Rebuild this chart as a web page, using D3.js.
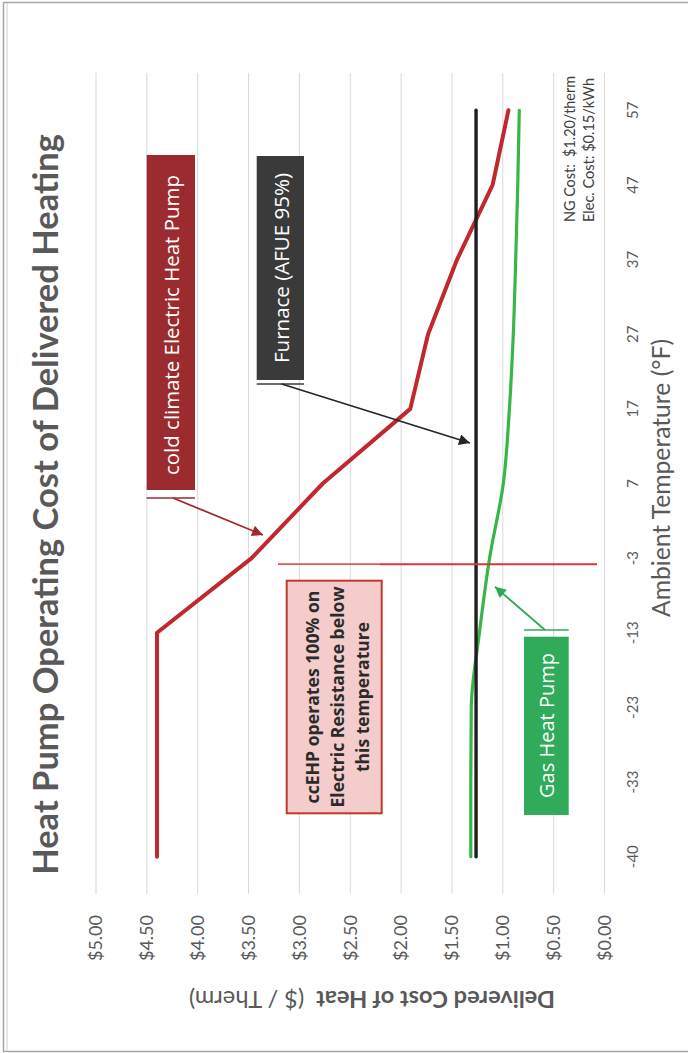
<!DOCTYPE html>
<html><head><meta charset="utf-8">
<script src="https://cdn.jsdelivr.net/npm/d3@7"></script>
<style>body{margin:0;background:#fff}svg{display:block}</style>
</head><body><script>
// ---- data ----
const temperatures = ["-40","-33","-23","-13","-3","7","17","27","37","47","57"];
const ccEhpCost = [4.40,4.40,4.40,4.40,3.47,2.77,1.91,1.735,1.45,1.10,0.945];
const furnaceCost = [1.263,1.263,1.263,1.263,1.263,1.263,1.263,1.263,1.263,1.263,1.263];
const gasHeatPumpCost = [1.315,1.315,1.31,1.23,1.13,0.995,0.935,0.897,0.873,0.853,0.838];
const costTicks = [0,0.5,1,1.5,2,2.5,3,3.5,4,4.5,5];
const lockoutTemperature = "-3";
const titleText = "Heat Pump Operating Cost of Delivered Heating";
const xTitleText = "Ambient Temperature (°F)";
const yTitleBold = "Delivered Cost of Heat";
const yTitleUnit = "  ($ / Therm)";
const noteLines = ["NG Cost:  $1.20/therm","Elec. Cost: $0.15/kWh"];
const ccEhpLabel = "cold climate Electric Heat Pump";
const furnaceLabel = "Furnace (AFUE 95%)";
const gasLabel = "Gas Heat Pump";
const lockoutLines = ["ccEHP operates 100% on","Electric Resistance below","this temperature"];

// ---- layout ----
const W = 688, H = 1053;
const svg = d3.select("body").append("svg").attr("width", W).attr("height", H);
svg.append("rect").attr("width", W).attr("height", H).attr("fill", "#fff");
svg.append("rect").attr("x",3.5).attr("y",2.5).attr("width",W+10).attr("height",H-4)
  .attr("fill","none").attr("stroke","#a6a6a6").attr("stroke-width",1.5);
svg.append("line").attr("x1",7).attr("x2",7).attr("y1",3).attr("y2",H-2)
  .attr("stroke","#d0d0d0").attr("stroke-width",1);

// chart drawn in landscape coordinates, rotated -90deg
const g = svg.append("g").attr("transform", `translate(0,${H}) rotate(-90)`);
const FONT = "Lato, 'Open Sans', sans-serif";
const BOXFONT = "'Open Sans', 'Noto Sans', sans-serif";

const x = d3.scaleBand().domain(temperatures).range([159, 980]).padding(0);
const xc = t => x(t) + x.bandwidth() / 2;
const y = d3.scaleLinear().domain([0, 5]).range([604.5, 96]);

function fit(sel, target) {
  const n = sel.node();
  const fs = parseFloat(sel.attr("font-size"));
  const len = n.getComputedTextLength();
  if (len > 0) sel.attr("font-size", (fs * target / len).toFixed(2));
  return sel;
}

// gridlines
g.append("g").selectAll("line").data(costTicks).join("line")
  .attr("x1", 159).attr("x2", 980)
  .attr("y1", d => y(d)).attr("y2", d => y(d))
  .attr("stroke", "#d9d9d9").attr("stroke-width", 1);

// y axis
const yAxis = g.append("g").attr("transform", "translate(159,0)")
  .call(d3.axisLeft(y).tickValues(costTicks).tickFormat(d3.format("$.2f")).tickSize(0).tickPadding(21));
yAxis.select(".domain").remove();
yAxis.selectAll("text").attr("font-family", FONT).attr("font-size", 18).attr("fill", "#595959");

// x axis
const xAxis = g.append("g").attr("transform", `translate(0,${y(0)})`)
  .call(d3.axisBottom(x).tickSize(0));
xAxis.select(".domain").remove();
xAxis.selectAll("text").attr("y", 28.5).attr("dy", "0.35em")
  .attr("font-family", FONT).attr("font-size", 15).attr("fill", "#595959");

// series
const series = [
  {name: "ccEHP", values: ccEhpCost, color: "#c0282d", w: 4, curve: d3.curveLinear},
  {name: "gas", values: gasHeatPumpCost, color: "#3ab54a", w: 3.2, curve: d3.curveMonotoneX},
  {name: "furnace", values: furnaceCost, color: "#1e1e1e", w: 3.4, curve: d3.curveLinear}
];
g.append("g").selectAll("path").data(series).join("path")
  .attr("d", s => d3.line().x(d => xc(d.t)).y(d => y(d.v)).curve(s.curve)(temperatures.map((t, i) => ({t, v: s.values[i]}))))
  .attr("fill", "none").attr("stroke", s => s.color).attr("stroke-width", s => s.w)
  .attr("stroke-linejoin", "round").attr("stroke-linecap", "round");

// lockout line
const lx = xc(lockoutTemperature) - 6;
g.append("line").attr("x1", lx).attr("x2", lx).attr("y1", 278).attr("y2", 380)
  .attr("stroke", "#dc5a5a").attr("stroke-width", 1.6);
g.append("line").attr("x1", lx).attr("x2", lx).attr("y1", 380).attr("y2", 597)
  .attr("stroke", "#d23a3a").attr("stroke-width", 2);

// markers
const defs = svg.append("defs");
[["arrRed","#a0292c"],["arrBlack","#262626"],["arrGreen","#2eaa55"]].forEach(([id,c]) => {
  defs.append("marker").attr("id", id).attr("viewBox","0 0 10 10").attr("refX",10).attr("refY",5)
    .attr("markerWidth",13).attr("markerHeight",11).attr("markerUnits","userSpaceOnUse")
    .attr("orient","auto").append("path").attr("d","M0,0L10,5L0,10z").attr("fill",c);
});

function box(x0, x1, y0, y1, fill, stroke) {
  g.append("rect").attr("x", x0).attr("y", y0).attr("width", x1 - x0).attr("height", y1 - y0)
    .attr("fill", fill).attr("stroke", stroke || "none").attr("stroke-width", stroke ? 2 : 0);
}
function leader(xx, y0, y1, c) {
  g.append("line").attr("x1", xx).attr("x2", xx).attr("y1", y0).attr("y2", y1)
    .attr("stroke", c).attr("stroke-width", 1.5);
}
function arrow(x0, y0, x1, y1, c, id) {
  g.append("line").attr("x1", x0).attr("y1", y0).attr("x2", x1).attr("y2", y1)
    .attr("stroke", c).attr("stroke-width", 1.8).attr("marker-end", `url(#${id})`);
}
function label(txt, cx, cy, target, opts) {
  const t = g.append("text").attr("x", cx).attr("y", cy).attr("text-anchor", "middle")
    .attr("dominant-baseline", "central").attr("font-family", opts.font || BOXFONT)
    .attr("font-size", opts.size || 16).attr("font-weight", opts.weight || "normal")
    .attr("fill", opts.fill).text(txt);
  fit(t, target);
  return t;
}

// ccEHP box
box(563, 898, 146.7, 195, "#9b2b2f");
leader(555, 146.7, 195, "#9b2b2f");
arrow(555, 173, 518, 263, "#a0292c", "arrRed");
label(ccEhpLabel, 728, 171, 300, {fill: "#fff", size: 16});

// furnace box
box(673, 897, 256.7, 304, "#3a3a3a");
leader(669, 256.7, 304, "#3a3a3a");
arrow(669, 281.7, 610, 470, "#262626", "arrBlack");
label(furnaceLabel, 785, 280.5, 190, {fill: "#fff", size: 16});

// lockout note box
box(239.7, 472.3, 286.7, 381.7, "#f4cccc", "#c0392b");
const lockTargets = [213, 221, 150];
lockoutLines.forEach((s, i) => {
  label(s, 356, 312 + i * 25, lockTargets[i], {fill: "#2b2b2b", size: 15, weight: "bold"});
});

// gas heat pump box
box(238, 416.3, 524, 568.7, "#2fab5a");
leader(423, 524, 568.7, "#2fab5a");
arrow(423, 545, 466.3, 495, "#2eaa55", "arrGreen");
label(gasLabel, 327.5, 546.5, 145, {fill: "#fff", size: 16});

// title
const tt = g.append("text").attr("x", 548.5).attr("y", 58).attr("text-anchor", "middle")
  .attr("font-family", FONT).attr("font-weight", "bold").attr("font-size", 30)
  .attr("fill", "#595959").text(titleText);
fit(tt, 741);

// x title
const xt = g.append("text").attr("x", 575).attr("y", 660).attr("text-anchor", "middle")
  .attr("dominant-baseline", "central").attr("font-family", FONT).attr("font-size", 20)
  .attr("fill", "#595959").text(xTitleText);
fit(xt, 278);

// y title
const yt = g.append("text").attr("transform", "translate(53,372) rotate(-90)")
  .attr("text-anchor", "middle").attr("dominant-baseline", "central")
  .attr("font-family", FONT).attr("font-size", 18).attr("fill", "#595959");
yt.append("tspan").attr("font-weight", "bold").text(yTitleBold);
yt.append("tspan").style("white-space", "pre").text(yTitleUnit);
fit(yt, 366);

// cost note (condensed to mimic a narrow font)
noteLines.forEach((s, i) => {
  g.append("text").attr("x", 831).attr("y", 569 + i * 19).attr("dominant-baseline", "central")
    .attr("font-family", FONT).attr("font-size", 15.5).attr("fill", "#404040")
    .attr("textLength", i === 0 ? 146 : 144).attr("lengthAdjust", "spacingAndGlyphs")
    .style("white-space", "pre").text(s);
});
</script></body></html>
